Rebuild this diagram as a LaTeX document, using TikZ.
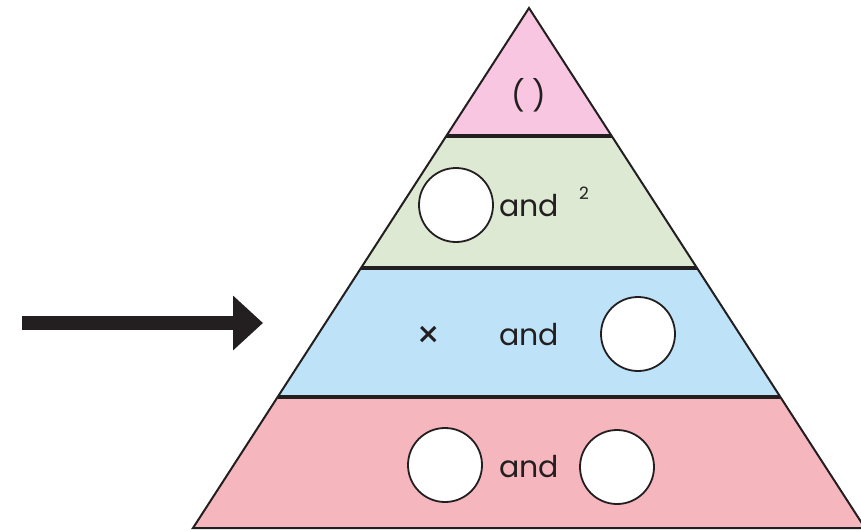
\documentclass[tikz,border=0pt]{standalone}
\usepackage{fontspec}
\setmainfont{Poppins}
\usetikzlibrary{arrows.meta,positioning,calc}
\definecolor{TopPink}{RGB}{248,198,224}
\definecolor{BandGreen}{RGB}{221,233,210}
\definecolor{BandBlue}{RGB}{190,227,248}
\definecolor{BasePink}{RGB}{246,182,189}
\definecolor{InkBlack}{RGB}{35,31,32}

\begin{document}
\begin{tikzpicture}[x=1pt,y=-1pt,
    gap/.style={circle, draw=InkBlack, line width=1.8pt, fill=white, minimum size=74pt, inner sep=0pt},
    word/.style={text=InkBlack, font=\fontsize{30}{32}\selectfont, inner sep=0pt},
    sep/.style={InkBlack, line width=4.5pt}]
        \useasboundingbox (0,0) rectangle (861,531);
        \clip (0,0) rectangle (861,531);
        \coordinate (apex) at (529,8);
        \coordinate (base-l) at (193,528);
        \coordinate (base-r) at (865,528);
        \foreach \t/\n in {0.246/top, 0.5/mid, 0.748/low}{
          \coordinate (\n-l) at ($(apex)!\t!(base-l)$);
          \coordinate (\n-r) at ($(apex)!\t!(base-r)$);
        }
        \fill[TopPink] (apex) -- (top-l) -- (top-r) -- cycle;
        \fill[BandGreen] (top-l) -- (mid-l) -- (mid-r) -- (top-r) -- cycle;
        \fill[BandBlue] (mid-l) -- (low-l) -- (low-r) -- (mid-r) -- cycle;
        \fill[BasePink] (low-l) -- (base-l) -- (base-r) -- (low-r) -- cycle;
        \draw[InkBlack, line width=2pt] (apex) -- (base-l) -- (base-r) -- cycle;
        \foreach \n in {top,mid,low} \draw[sep] (\n-l) -- (\n-r);

        \node[word] (brackets) at (529,95) {( )};

        \node[gap] (greengap) at (456,205) {};
        \node[word, anchor=base] (greenand) at (529,216) {and};
        \node[text=InkBlack, font=\fontsize{17}{18}\selectfont, inner sep=0pt] (square) at (584,193) {2};

        \node[text=InkBlack, font=\fontsize{38}{40}\selectfont, inner sep=0pt] (times) at (429,337) {×};
        \node[word, anchor=base] (blueand) at (529,345) {and};
        \node[gap] (bluegap) at (638,334) {};

        \node[gap] (leftgap) at (445,465) {};
        \node[word, anchor=base] (redand) at (529,477) {and};
        \node[gap] (rightgap) at (617,467) {};

        \coordinate (tail) at (22,323);
        \coordinate (tip) at (263,323);
        \draw[InkBlack, line width=14pt, -{Triangle[length=30pt,width=53pt]}] (tail) -- (tip);
      \end{tikzpicture}
\end{document}
